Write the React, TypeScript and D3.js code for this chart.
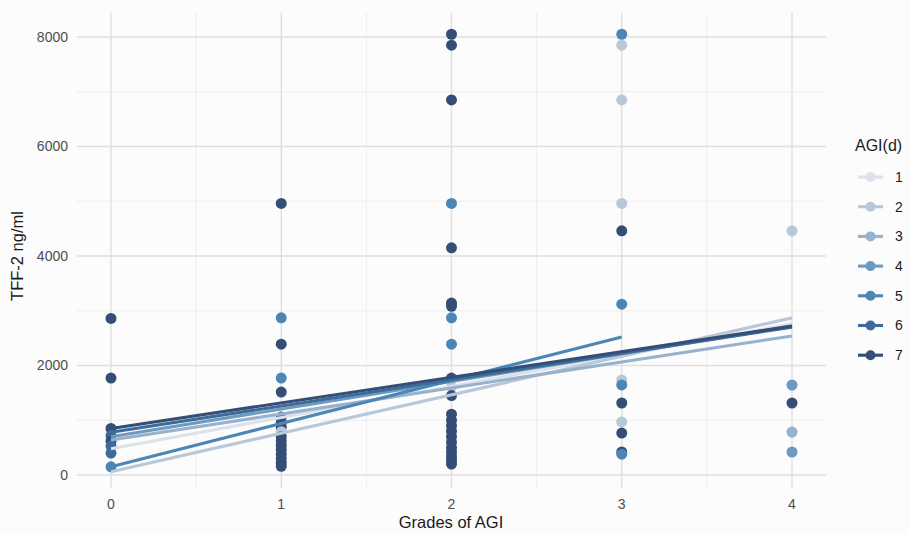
import React from "react";
import * as d3 from "d3";

const groups = ["1", "2", "3", "4", "5", "6", "7"];
const groupColors = ["#dde2ea", "#b9c7da", "#97b2cd", "#6d9ac0", "#4c86b5", "#3b6c9c", "#344e75"];

// points: grade, value, group index (0-based)
const pointGrade = [
  0, 0, 0, 0, 0, 0, 0, 0,
  1, 1, 1, 1, 1, 1, 1, 1, 1, 1, 1, 1, 1, 1, 1, 1, 1,
  2, 2, 2, 2, 2, 2, 2, 2, 2, 2, 2, 2, 2, 2, 2, 2, 2, 2, 2, 2, 2, 2, 2,
  3, 3, 3, 3, 3, 3, 3, 3, 3, 3, 3, 3, 3,
  4, 4, 4, 4, 4,
];
const pointValue = [
  2860, 1770, 850, 720, 620, 530, 400, 150,
  4960, 2870, 2390, 1770, 1515, 1060, 960, 870, 790, 700, 620, 540, 460, 380, 300, 230, 160,
  8050, 7850, 6850, 4960, 4150, 3140, 3080, 2870, 2390, 1770, 1610, 1450, 1110, 1000, 900, 800, 700, 600, 500, 420, 340, 270, 200,
  8050, 7850, 6850, 4960, 4460, 3120, 1735, 1645, 1315, 970, 765, 420, 380,
  4457, 1644, 1315, 785, 420,
];
const pointGroup = [
  6, 6, 6, 5, 6, 5, 5, 4,
  6, 4, 6, 4, 6, 6, 6, 6, 1, 6, 6, 6, 6, 6, 6, 6, 6,
  6, 6, 6, 4, 6, 6, 6, 4, 4, 6, 1, 6, 6, 6, 6, 6, 6, 6, 6, 6, 6, 6, 6,
  4, 1, 1, 1, 6, 4, 1, 4, 6, 1, 6, 6, 4,
  1, 3, 6, 2, 3,
];

// fitted lines per group
const lineXStart = [0, 0, 0, 0, 0, 0, 0];
const lineXEnd = [4, 4, 4, 4, 3, 4, 4];
const lineYStart = [480, 60, 640, 700, 150, 780, 850];
const lineYEnd = [2760, 2870, 2540, 2720, 2520, 2700, 2720];

const xTicks = [0, 1, 2, 3, 4];
const xMinor = [0.5, 1.5, 2.5, 3.5];
const yTicks = [0, 2000, 4000, 6000, 8000];
const yMinor = [1000, 3000, 5000, 7000];

export default function App() {
  const W = 910, H = 534;
  const x = d3.scaleLinear().domain([0, 4]).range([111, 792]);
  const y = d3.scaleLinear().domain([0, 8000]).range([475, 37]);
  const [px0, px1] = [x(-0.2), x(4.2)];
  const [py0, py1] = [y(8445), y(-245)];
  const line = d3.line<[number, number]>().x((d) => x(d[0])).y((d) => y(d[1]));
  const font = "'Liberation Sans', Arial, Helvetica, sans-serif";

  return (
    <svg width={W} height={H} style={{ position: "absolute", left: 0, top: 0, background: "#fcfcfc" }} fontFamily={font}>
      <rect x={0} y={0} width={W} height={H} fill="#fcfcfc" />
      {/* grid */}
      {yMinor.map((v) => (
        <line key={"ym" + v} x1={px0} x2={px1} y1={y(v)} y2={y(v)} stroke="#eeeaea" strokeWidth={0.8} />
      ))}
      {xMinor.map((v) => (
        <line key={"xm" + v} x1={x(v)} x2={x(v)} y1={py0} y2={py1} stroke="#eeeaea" strokeWidth={0.8} />
      ))}
      {yTicks.map((v) => (
        <line key={"y" + v} x1={px0} x2={px1} y1={y(v)} y2={y(v)} stroke="#e2dede" strokeWidth={1.4} />
      ))}
      {xTicks.map((v) => (
        <line key={"x" + v} x1={x(v)} x2={x(v)} y1={py0} y2={py1} stroke="#e2dede" strokeWidth={1.4} />
      ))}
      {/* points */}
      {pointGrade.map((g, i) => (
        <circle key={"p" + i} cx={x(g)} cy={y(pointValue[i])} r={5.5} fill={groupColors[pointGroup[i]]} />
      ))}
      {/* lines */}
      {groups.map((g, i) => (
        <path
          key={"l" + g}
          d={line([[lineXStart[i], lineYStart[i]], [lineXEnd[i], lineYEnd[i]]]) || ""}
          stroke={groupColors[i]}
          strokeWidth={3.1}
          fill="none"
        />
      ))}
      {/* axis tick labels */}
      {yTicks.map((v) => (
        <text key={"yt" + v} x={68} y={y(v)} dy="0.35em" textAnchor="end" fontSize={14} fill="#4d4d4d">
          {v}
        </text>
      ))}
      {xTicks.map((v) => (
        <text key={"xt" + v} x={x(v)} y={504} dy="0.35em" textAnchor="middle" fontSize={14} fill="#4d4d4d">
          {v}
        </text>
      ))}
      {/* axis titles */}
      <text x={451} y={522} dy="0.35em" textAnchor="middle" fontSize={16.5} fill="#1a1a1a">
        Grades of AGI
      </text>
      <text transform={`translate(17,256) rotate(-90)`} textAnchor="middle" dy="0.35em" fontSize={16.5} fill="#1a1a1a">
        TFF-2 ng/ml
      </text>
      {/* legend */}
      <text x={855} y={145} dy="0.35em" fontSize={16} fill="#1a1a1a">
        AGI(d)
      </text>
      {groups.map((g, i) => {
        const ly = 177 + i * 29.7;
        return (
          <g key={"lg" + g}>
            <line x1={858} x2={883} y1={ly} y2={ly} stroke={groupColors[i]} strokeWidth={3.1} />
            <circle cx={870.5} cy={ly} r={5} fill={groupColors[i]} />
            <text x={895} y={ly} dy="0.35em" fontSize={14} fill="#1a1a1a">
              {g}
            </text>
          </g>
        );
      })}
    </svg>
  );
}
